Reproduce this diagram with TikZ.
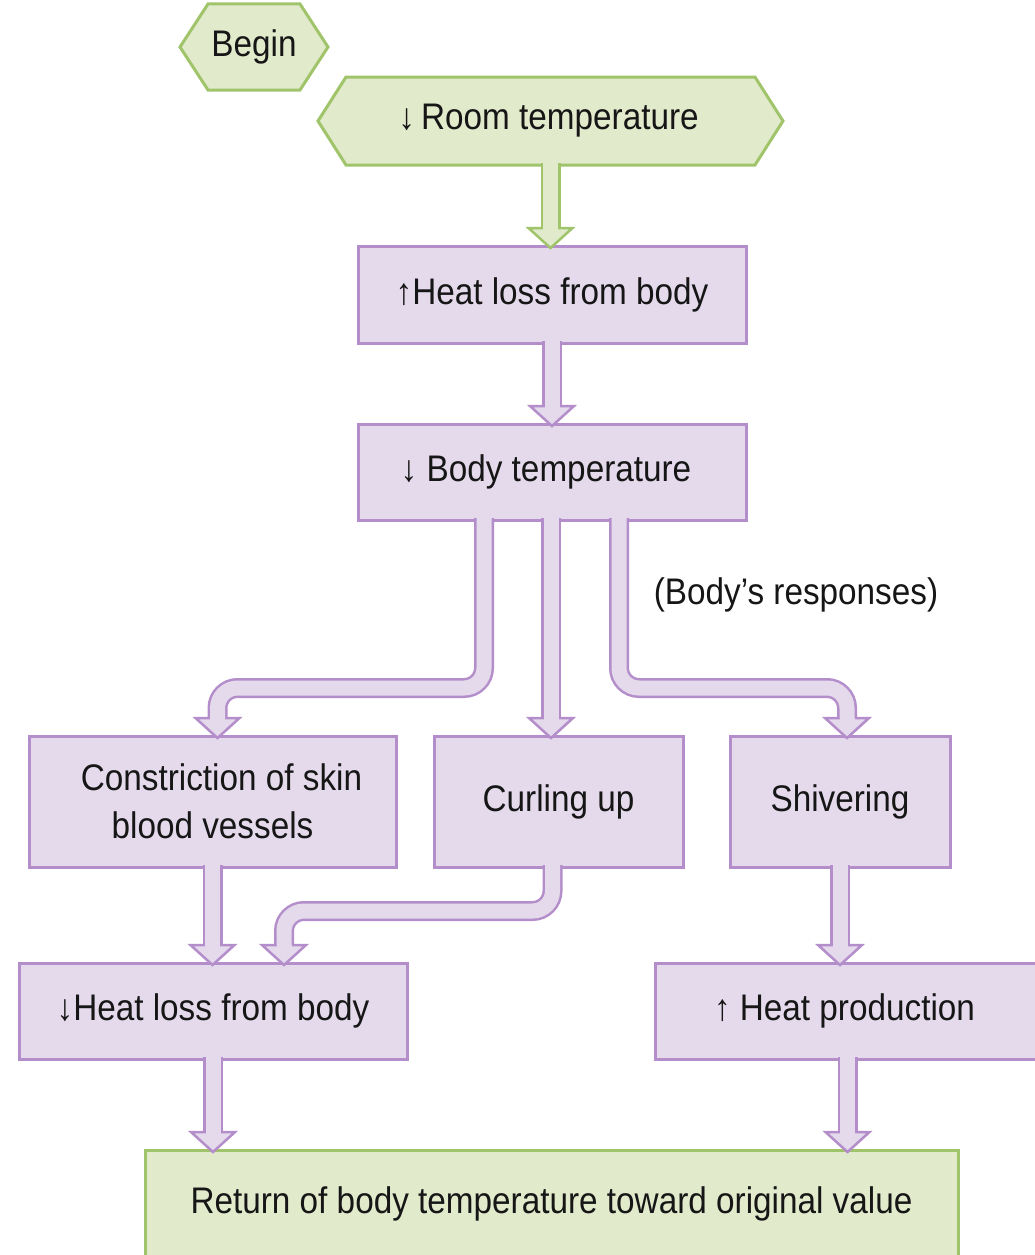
\documentclass[tikz,border=0pt]{standalone}
\usepackage{fontspec}
\setmainfont{Liberation Sans}[FakeStretch=0.9]
\usetikzlibrary{calc,backgrounds}
\definecolor{pfill}{RGB}{228,218,236}
\definecolor{pline}{RGB}{180,142,202}
\definecolor{gfill}{RGB}{226,234,204}
\definecolor{gline}{RGB}{160,196,106}
\definecolor{txt}{RGB}{22,22,22}
\newcommand{\BA}[4]{%
  \coordinate (tmpb) at ($(#4)+(0,-20)$);
  \filldraw[fill=#1,draw=#2,line width=2.5pt,line join=miter]
    ($(tmpb)+(-22,0)$) -- ($(tmpb)+(22,0)$) -- (#4) -- cycle;
  \draw[draw=#2,line width=20pt,rounded corners=20pt] #3 -- (tmpb);
  \draw[draw=#1,line width=15pt,rounded corners=20pt] #3 -- (tmpb);
  \draw[draw=#1,line width=15pt] (tmpb) -- ++(0,4);
}
\begin{document}
\begin{tikzpicture}[x=1pt,y=-1pt,
  every node/.style={font=\fontsize{37}{48}\selectfont,text=txt,align=center,inner sep=0pt,outer sep=0pt},
  pbox/.style={draw=pline,fill=pfill,line width=3pt},
  gbox/.style={draw=gline,fill=gfill,line width=3pt},
  hexn/.style={},
  hexdraw/.style={draw=gline,fill=gfill,line width=3pt,line join=miter}]
\useasboundingbox (0,0) rectangle (1034,1255);

% hexagon start nodes
\node[hexn,minimum width=92pt,minimum height=86pt] (begin) at (254,47) {Begin};
\node[hexn,minimum width=409pt,minimum height=88pt] (room) at (550.5,121) {\kern-4pt↓\,Room temperature};
\begin{scope}[on background layer]
  \draw[hexdraw] ($(begin.west)+(-28,0)$) -- (begin.north west) -- (begin.north east)
    -- ($(begin.east)+(28,0)$) -- (begin.south east) -- (begin.south west) -- cycle;
  \draw[hexdraw] ($(room.west)+(-28,0)$) -- (room.north west) -- (room.north east)
    -- ($(room.east)+(28,0)$) -- (room.south east) -- (room.south west) -- cycle;
\end{scope}

% boxes
\node[pbox,minimum width=388pt,minimum height=97pt] (hl1) at (552,294.5) {↑Heat loss from body};
\node[pbox,minimum width=388pt,minimum height=96pt] (bt) at (552,472) {\kern-12pt↓ Body temperature};
\node[pbox,minimum width=367pt,minimum height=131pt] (con) at (212.5,801.5) {\kern18pt Constriction of skin\\blood vessels};
\node[pbox,minimum width=249pt,minimum height=131pt] (cur) at (558.5,801.5) {Curling up};
\node[pbox,minimum width=220pt,minimum height=131pt] (shiv) at (840,801.5) {Shivering};
\node[pbox,minimum width=388pt,minimum height=96pt] (hl2) at (213,1011) {↓Heat loss from body};
\node[pbox,minimum width=385pt,minimum height=96pt] (hp) at (847.5,1011) {\kern-6pt↑ Heat production};
\node[gbox,minimum width=813pt,minimum height=108pt] (ret) at (551.5,1204) {Return of body temperature toward original value};
\node (resp) at (796,595) {(Body’s responses)};

% tips
\coordinate (t1) at ($(room.south |- hl1.north)+(0,2)$);
\coordinate (t2) at ($(hl1.south |- bt.north)+(0,2)$);
\coordinate (t3) at ($(con.north)+(5,2)$);
\coordinate (t4) at ($(bt.south |- cur.north)+(-1,2)$);
\coordinate (t5) at ($(shiv.north)+(7,2)$);
\coordinate (t6) at ($(con.south |- hl2.north)+(0,2)$);
\coordinate (t7) at ($(hl2.north)+(71,2)$);
\coordinate (t8) at ($(shiv.south |- hp.north)+(0,2)$);
\coordinate (t9) at ($(hl2.south |- ret.north)+(0,2)$);
\coordinate (t10) at ($(hp.south |- ret.north)+(0,2)$);

% connectors
\BA{gfill}{gline}{($(room.south)+(0,-2)$)}{t1}
\BA{pfill}{pline}{($(hl1.south)+(0,-2)$)}{t2}
\BA{pfill}{pline}{($(bt.south)+(-68,-2)$) -- ($(bt.south)+(-68,168)$) -- ($(con.north)+(5,-48)$)}{t3}
\BA{pfill}{pline}{($(bt.south)+(-1,-2)$)}{t4}
\BA{pfill}{pline}{($(bt.south)+(67,-2)$) -- ($(bt.south)+(67,168)$) -- ($(shiv.north)+(7,-48)$)}{t5}
\BA{pfill}{pline}{($(con.south)+(0,-2)$)}{t6}
\BA{pfill}{pline}{($(cur.south)+(-6,-2)$) -- ($(cur.south)+(-6,44)$) -- ($(hl2.north)+(71,-52)$)}{t7}
\BA{pfill}{pline}{($(shiv.south)+(0,-2)$)}{t8}
\BA{pfill}{pline}{($(hl2.south)+(0,-2)$)}{t9}
\BA{pfill}{pline}{($(hp.south)+(0,-2)$)}{t10}
\end{tikzpicture}
\end{document}
